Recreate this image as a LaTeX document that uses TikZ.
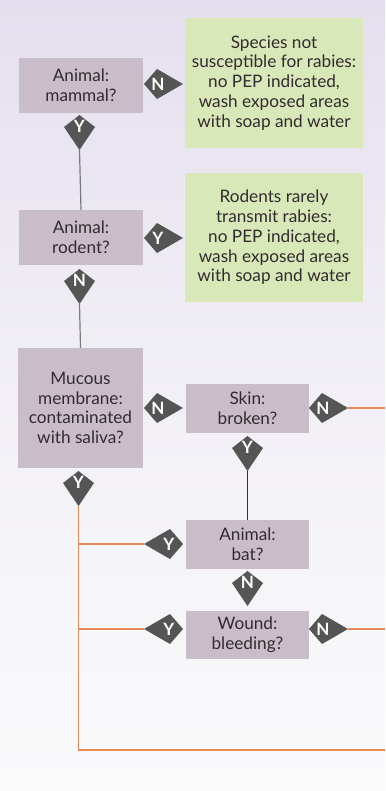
\documentclass[tikz,border=0pt]{standalone}
\usepackage{fontspec}
\setmainfont{Lato}
\definecolor{boxfill}{HTML}{C9BDCA}
\definecolor{greenfill}{HTML}{D9E8B9}
\definecolor{kitegray}{HTML}{555555}
\definecolor{txt}{HTML}{332B2F}
\definecolor{orangeline}{HTML}{E58B5A}
\definecolor{grayline}{HTML}{7A7A7A}
\definecolor{bgtop}{HTML}{E4DFEE}
\definecolor{bgmid}{HTML}{F2F0F6}
\definecolor{bgbot}{HTML}{FAFAFB}
\tikzset{
  qbox/.style={fill=boxfill, inner sep=0pt, align=center, text=txt,
    font=\fontsize{17.2}{19.8}\selectfont},
  gbox/.style={fill=greenfill, inner sep=0pt, align=center, text=txt,
    font=\fontsize{17.2}{19.8}\selectfont},
  letter/.style={text=white, inner sep=0pt, font=\bfseries\fontsize{17}{17}\selectfont},
  conn/.style={draw=grayline, line width=1.2pt},
  darkconn/.style={draw=black!80, line width=1.1pt},
  oconn/.style={draw=orangeline, line width=1.4pt},
  pics/kiteR/.style={code={
    \fill[kitegray] (-13,0) -- (0,-15) -- (26,0) -- (0,15) -- cycle;
    \node[letter] (-ltr) at (1,0) {#1};
    \coordinate (-tip) at (26,0);
    \coordinate (-base) at (-13,0);}},
  pics/kiteL/.style={code={
    \fill[kitegray] (13,0) -- (0,-15) -- (-26,0) -- (0,15) -- cycle;
    \node[letter] (-ltr) at (-1,0) {#1};
    \coordinate (-tip) at (-26,0);
    \coordinate (-base) at (13,0);}},
  pics/kiteD/.style={code={
    \fill[kitegray] (0,-12) -- (15.5,0) -- (0,23) -- (-15.5,0) -- cycle;
    \node[letter] (-ltr) at (0,-1) {#1};
    \coordinate (-tip) at (0,23);
    \coordinate (-base) at (0,-12);}}
}
\begin{document}
\begin{tikzpicture}[x=1pt,y=-1pt]
\useasboundingbox (0,0) rectangle (385,791);
\shade[top color=bgtop, bottom color=bgbot, middle color=bgmid] (0,0) rectangle (385,791);

% boxes
\node[qbox, minimum width=124pt, minimum height=55pt] (mammal) at (81,85.5) {Animal:\\mammal?};
\node[gbox, minimum width=178pt, minimum height=130pt] (g1) at (274,83) {Species not\\susceptible for rabies:\\no PEP indicated,\\wash exposed areas\\with soap and water};
\node[qbox, minimum width=124pt, minimum height=55pt] (rodent) at (81,237.5) {Animal:\\rodent?};
\node[gbox, minimum width=178pt, minimum height=129pt] (g2) at (274,237.5) {Rodents rarely\\transmit rabies:\\no PEP indicated,\\wash exposed areas\\with soap and water};
\node[qbox, minimum width=125pt, minimum height=120pt] (mucous) at (80.5,408) {Mucous\\membrane:\\contaminated\\with saliva?};
\node[qbox, minimum width=123pt, minimum height=49pt] (skin) at (247.5,408.5) {Skin:\\broken?};
\node[qbox, minimum width=123pt, minimum height=49pt] (bat) at (247.5,544.5) {Animal:\\bat?};
\node[qbox, minimum width=123pt, minimum height=48pt] (wound) at (247.5,635) {Wound:\\bleeding?};

% kites
\pic (kMamN) at (157,84) {kiteR=N};
\pic (kMamY) at (79.5,127) {kiteD=Y};
\pic (kRodY) at (157,238) {kiteR=Y};
\pic (kRodN) at (79.5,281) {kiteD=N};
\pic (kMucN) at (157,408) {kiteR=N};
\pic (kSkinN) at (322,408) {kiteR=N};
\pic (kSkinY) at (247.5,448) {kiteD=Y};
\pic (kMucY) at (78.5,483) {kiteD=Y};
\pic (kBatY) at (170,544) {kiteL=Y};
\pic (kBatN) at (247.5,583) {kiteD=N};
\pic (kWouY) at (170,629) {kiteL=Y};
\pic (kWouN) at (322,629) {kiteR=N};

% free ends
\coordinate (exitA) at (385,408);
\coordinate (exitB) at (385,629);
\coordinate (exitC) at (385,750);

% connectors
\draw[conn] (kMamY-tip) -- (rodent.north);
\draw[conn] (kRodN-tip) -- (mucous.north);
\draw[darkconn] (kSkinY-tip) -- (bat.north);
\draw[oconn] (kSkinN-tip) -- (exitA);
\draw[oconn] (kWouN-tip) -- (exitB);
\draw[oconn] (kMucY-tip) |- (exitC);
\draw[oconn] (kBatY-tip) -- (kBatY-tip -| kMucY-tip);
\draw[oconn] (kWouY-tip) -- (kWouY-tip -| kMucY-tip);
\end{tikzpicture}
\end{document}
